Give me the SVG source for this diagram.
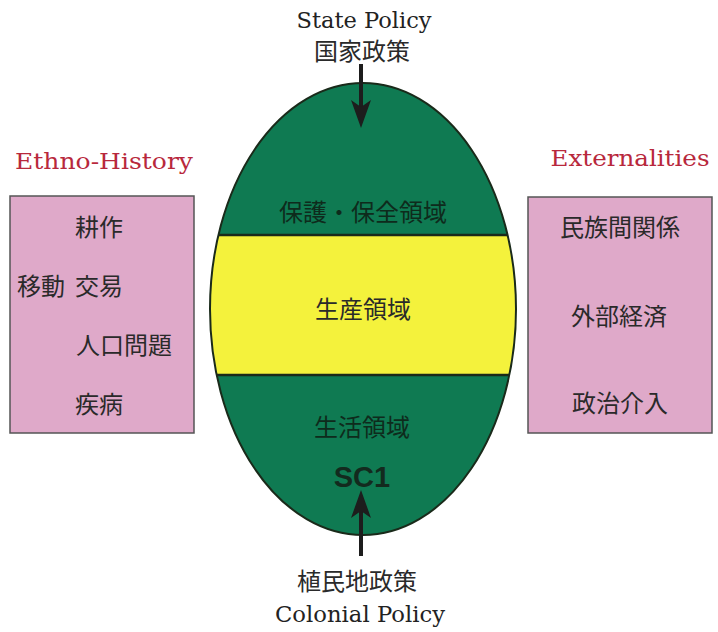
<svg xmlns="http://www.w3.org/2000/svg" width="718" height="632" viewBox="0 0 718 632">
<style>
.jp{font-family:"Noto Sans CJK JP","Noto Sans CJK SC",sans-serif;font-size:24px;fill:#2a2a2a;}
.title{font-family:"DejaVu Serif","Liberation Serif",serif;font-size:23px;fill:#b8283c;text-anchor:middle;}
.pol{font-family:"DejaVu Serif","Liberation Serif",serif;font-size:23px;fill:#222;text-anchor:middle;}
.box{fill:#dfa9c9;stroke:#555;stroke-width:1.5;}
.band{stroke:#1a2a1a;stroke-width:2.5;}
.dk{fill:#0e2b1c;}
</style>
<defs>
<clipPath id="egg"><ellipse cx="363" cy="309" rx="153" ry="226"/></clipPath>
<marker id="ah" viewBox="0 0 28 20" refX="16" refY="10" markerWidth="28" markerHeight="20" markerUnits="userSpaceOnUse" orient="auto">
<path d="M28,10 L0,0 L7,10 L0,20 Z" fill="#1d1d1d"/>
</marker>
</defs>
<g id="egg-node">
<ellipse cx="363" cy="309" rx="153" ry="226" fill="#0f7a52"/>
<rect x="200" y="235" width="330" height="140" fill="#f4f23c" clip-path="url(#egg)"/>
<line class="band" x1="200" y1="235" x2="530" y2="235" clip-path="url(#egg)"/>
<line class="band" x1="200" y1="375" x2="530" y2="375" clip-path="url(#egg)"/>
<ellipse cx="363" cy="309" rx="153" ry="226" fill="none" stroke="#1a2a1a" stroke-width="2"/>
<text class="jp dk" x="363" y="221" text-anchor="middle">保護・保全領域</text>
<text class="jp" x="363" y="318" text-anchor="middle" fill="#2a2a10">生産領域</text>
<text class="jp dk" x="362" y="436" text-anchor="middle">生活領域</text>
<text x="362" y="487" text-anchor="middle" font-family="Liberation Sans,Arial,sans-serif" font-weight="bold" font-size="29" fill="#132a1e">SC1</text>
</g>
<g id="ethno-history">
<text class="title" x="104" y="169" textLength="178" lengthAdjust="spacingAndGlyphs">Ethno-History</text>
<rect class="box" x="10" y="196" width="184" height="237"/>
<text class="jp" x="75" y="236">耕作</text>
<text class="jp" x="17" y="295">移動</text>
<text class="jp" x="75" y="295">交易</text>
<text class="jp" x="76" y="354">人口問題</text>
<text class="jp" x="75" y="413">疾病</text>
</g>
<g id="externalities">
<text class="title" x="630" y="166" textLength="159" lengthAdjust="spacingAndGlyphs">Externalities</text>
<rect class="box" x="528" y="197" width="184" height="236"/>
<text class="jp" x="620" y="236" text-anchor="middle">民族間関係</text>
<text class="jp" x="619" y="325" text-anchor="middle">外部経済</text>
<text class="jp" x="620" y="412" text-anchor="middle">政治介入</text>
</g>
<g id="state-policy">
<text class="pol" x="364" y="28" textLength="135" lengthAdjust="spacingAndGlyphs">State Policy</text>
<text class="jp" x="362" y="60" text-anchor="middle" font-size="23">国家政策</text>
</g>
<g id="colonial-policy">
<text class="jp" x="357" y="590" text-anchor="middle" font-size="23">植民地政策</text>
<text class="pol" x="360" y="622" textLength="170" lengthAdjust="spacingAndGlyphs">Colonial Policy</text>
</g>
<g id="connectors" stroke="#1d1d1d" stroke-width="4" fill="none">
<line x1="361" y1="64" x2="361" y2="116" marker-end="url(#ah)"/>
<line x1="361" y1="556" x2="361" y2="502" marker-end="url(#ah)"/>
</g>
</svg>
